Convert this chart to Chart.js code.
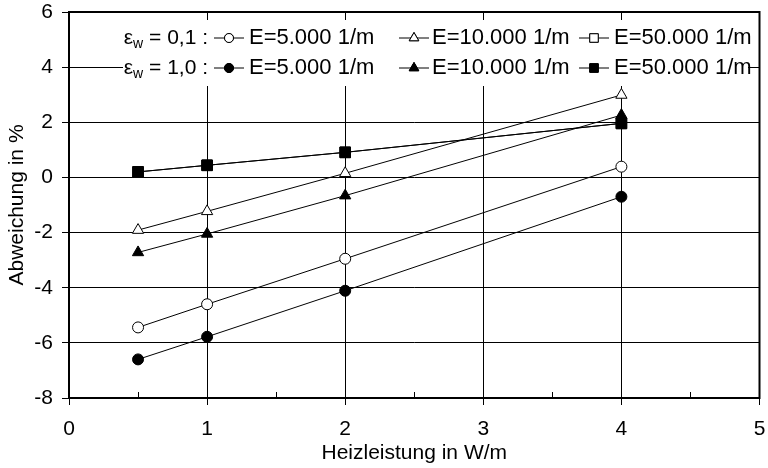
<!DOCTYPE html>
<html>
<head>
<meta charset="utf-8">
<script src="https://cdn.jsdelivr.net/npm/chart.js@4/dist/chart.umd.min.js"></script>
<style>
  html, body { margin: 0; padding: 0; background: #fff; }
  #wrap { width: 768px; height: 468px; }
</style>
</head>
<body>
<div id="wrap"><canvas id="chart" width="768" height="468"></canvas></div>
<script>
const heizleistung = [0.5, 1, 2, 4];
const e5000Eps01 = [-5.44, -4.6, -2.95, 0.39];
const e5000Eps10 = [-6.6, -5.78, -4.11, -0.7];
const e10000Eps01 = [-1.91, -1.23, 0.15, 2.99];
const e10000Eps10 = [-2.72, -2.05, -0.66, 2.26];
const e50000Eps01 = [0.2, 0.44, 0.91, 1.96];
const e50000Eps10 = [0.2, 0.44, 0.91, 1.96];

const xTicks = [0, 1, 2, 3, 4, 5];
const yTicks = [-8, -6, -4, -2, 0, 2, 4, 6];
const rowLabels = ["0,1", "1,0"];
const seriesLabels = ["E=5.000 1/m", "E=10.000 1/m", "E=50.000 1/m"];

const FONT = "Liberation Sans, Arial, sans-serif";
const RADIUS = { circle: 5.5, triangle: 6.5, rect: 7.5 };
const LEGEND_RADIUS = { circle: 4.5, triangle: 5.5, rect: 6 };

function toPoints(ys) {
  return heizleistung.map((x, i) => ({ x: x, y: ys[i] }));
}

function series(ys, style, filled, order) {
  return {
    data: toPoints(ys),
    showLine: true,
    borderColor: "#000",
    borderWidth: 1,
    pointStyle: style,
    pointRadius: RADIUS[style],
    pointBorderWidth: 1,
    pointBorderColor: "#000",
    pointBackgroundColor: filled ? "#000" : "#fff",
    order: order,
  };
}

// white legend box with the two rows, drawn over the grid but under the data
const legendBox = {
  id: "legendBox",
  beforeDatasetsDraw(chart) {
    const ctx = chart.ctx;
    const a = chart.chartArea;
    ctx.save();
    ctx.fillStyle = "#fff";
    ctx.fillRect(a.left + 54, a.top + 8, 625, 66);

    const rows = [a.top + 26, a.top + 56];
    const markerX = [229, 414, 594];
    const textX = [249, 432, 614];
    const styles = ["circle", "triangle", "rect"];
    ctx.fillStyle = "#000";
    ctx.strokeStyle = "#000";
    ctx.textBaseline = "middle";

    rows.forEach((y, r) => {
      // prefix: epsilon with subscript w
      const rest = " = " + rowLabels[r] + " :";
      ctx.font = "21px " + FONT;
      const wEps = ctx.measureText("\u03b5").width;
      const wRest = ctx.measureText(rest).width;
      ctx.font = "14px " + FONT;
      const wSub = ctx.measureText("w").width;
      let x = 208 - wEps - wSub - wRest;
      ctx.textAlign = "left";
      ctx.font = "21px " + FONT;
      ctx.fillText("\u03b5", x, y);
      x += wEps;
      ctx.font = "14px " + FONT;
      ctx.fillText("w", x, y + 6);
      x += wSub;
      ctx.font = "21px " + FONT;
      ctx.fillText(rest, x, y);

      for (let i = 0; i < 3; i++) {
        const cx = markerX[i];
        ctx.lineWidth = 1;
        ctx.beginPath();
        ctx.moveTo(cx - 15, y);
        ctx.lineTo(cx + 15, y);
        ctx.stroke();
        ctx.fillStyle = r === 1 ? "#000" : "#fff";
        Chart.helpers.drawPoint(ctx, {
          pointStyle: styles[i],
          radius: LEGEND_RADIUS[styles[i]],
          borderWidth: 1,
        }, cx, y);
        ctx.fill();
        ctx.stroke();
        ctx.fillStyle = "#000";
        ctx.font = "22px " + FONT;
        ctx.fillText(seriesLabels[i], textX[i], y);
      }
    });
    ctx.restore();
  },
};

// frame around the plot and small inner ticks at half steps on x
const frame = {
  id: "frame",
  afterDraw(chart) {
    const ctx = chart.ctx;
    const a = chart.chartArea;
    const xs = chart.scales.x;
    ctx.save();
    ctx.strokeStyle = "#000";
    ctx.lineWidth = 1;
    for (let v = 0.5; v < 5; v += 1) {
      const px = Math.round(xs.getPixelForValue(v)) + 0.5;
      ctx.beginPath();
      ctx.moveTo(px, a.bottom);
      ctx.lineTo(px, a.bottom - 6);
      ctx.stroke();
    }
    ctx.lineWidth = 2;
    ctx.strokeRect(a.left, a.top, a.right - a.left, a.bottom - a.top);
    ctx.restore();
  },
};

new Chart(document.getElementById("chart").getContext("2d"), {
  type: "scatter",
  data: {
    datasets: [
      series(e5000Eps01, "circle", false, 1),
      series(e10000Eps01, "triangle", false, 1),
      series(e50000Eps01, "rect", false, 2),
      series(e5000Eps10, "circle", true, 1),
      series(e10000Eps10, "triangle", true, 1),
      series(e50000Eps10, "rect", true, 0),
    ],
  },
  options: {
    responsive: false,
    animation: false,
    layout: { padding: { top: 12, right: 8, left: 0, bottom: 0 } },
    plugins: {
      legend: { display: false },
      tooltip: { enabled: false },
    },
    scales: {
      x: {
        type: "linear",
        min: 0,
        max: 5,
        afterBuildTicks: (s) => { s.ticks = xTicks.map((v) => ({ value: v })); },
        ticks: { color: "#000", font: { family: FONT, size: 21 }, padding: 12 },
        grid: {
          color: (c) => (c.tick && (c.tick.value === 0 || c.tick.value === 5) ? "rgba(0,0,0,0)" : "#000"),
          tickColor: "#000",
          tickLength: 7,
          lineWidth: 1,
        },
        border: { display: false },
        title: {
          display: true,
          text: "Heizleistung in W/m",
          color: "#000",
          font: { family: FONT, size: 21 },
          padding: { top: 0, bottom: 2 },
        },
        afterFit: (s) => {
          s.height = 70;
          s.paddingLeft = 0;
          s.paddingRight = 0;
        },
      },
      y: {
        type: "linear",
        min: -8,
        max: 6,
        afterBuildTicks: (s) => { s.ticks = yTicks.map((v) => ({ value: v })); },
        ticks: { color: "#000", font: { family: FONT, size: 21 }, padding: 9 },
        grid: { color: "#000", tickColor: "#000", tickLength: 7, lineWidth: 1 },
        border: { display: false },
        title: {
          display: true,
          text: "Abweichung in %",
          color: "#000",
          font: { family: FONT, size: 21 },
          padding: { top: 5, bottom: 0 },
        },
        afterFit: (s) => {
          s.width = 69;
          s.paddingTop = 0;
          s.paddingBottom = 0;
        },
      },
    },
  },
  plugins: [legendBox, frame],
});
</script>
</body>
</html>
